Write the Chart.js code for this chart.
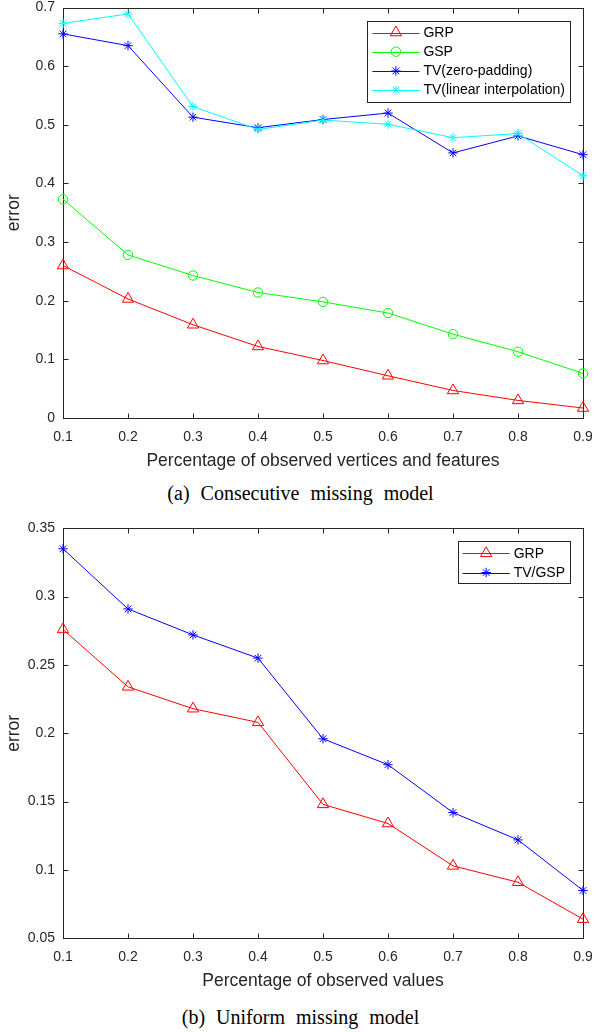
<!DOCTYPE html>
<html>
<head>
<meta charset="utf-8">
<script src="https://cdn.jsdelivr.net/npm/chart.js@4/dist/chart.umd.min.js"></script>
<style>
  html, body { margin: 0; padding: 0; background: #ffffff; }
  body { width: 613px; height: 1032px; position: relative; overflow: hidden; }
  .wrap { position: absolute; left: 0; width: 613px; height: 480px; }
  .cap { position: absolute; left: 0; width: 601px; text-align: center;
         font-family: "Liberation Serif", "Times New Roman", serif; font-size: 20px;
         line-height: 20px; color: #000; word-spacing: 6px; white-space: nowrap; }
</style>
</head>
<body>
<div class="wrap" style="top:0px"><canvas id="chartA"></canvas></div>
<div class="cap" style="top:483px">(a) Consecutive missing model</div>
<div class="wrap" style="top:520px"><canvas id="chartB"></canvas></div>
<div class="cap" style="top:1007px">(b) Uniform missing model</div>
<script>
// ---------- data ----------
const xTicks = ['0.1', '0.2', '0.3', '0.4', '0.5', '0.6', '0.7', '0.8', '0.9'];

// (a) Consecutive missing model
const grpA    = [0.260, 0.203, 0.159, 0.122, 0.098, 0.072, 0.047, 0.030, 0.017];
const gspA    = [0.373, 0.278, 0.243, 0.214, 0.198, 0.179, 0.143, 0.113, 0.076];
const tvZeroA = [0.655, 0.635, 0.513, 0.495, 0.509, 0.520, 0.452, 0.481, 0.449];
const tvLinA  = [0.673, 0.689, 0.531, 0.492, 0.508, 0.501, 0.478, 0.485, 0.413];
const yRangeA = [0, 0.7, 0.1];

// (b) Uniform missing model
const grpB    = [0.276, 0.234, 0.218, 0.208, 0.148, 0.134, 0.103, 0.091, 0.064];
const tvgspB  = [0.335, 0.291, 0.272, 0.255, 0.196, 0.177, 0.142, 0.122, 0.085];
const yRangeB = [0.05, 0.35, 0.05];

const xTitleA = 'Percentage of observed vertices and features';
const xTitleB = 'Percentage of observed values';
const yTitle = 'error';

// ---------- styling ----------
const FONT = '"Liberation Sans", Arial, Helvetica, sans-serif';
const AXIS = '#262626';

function series(label, data, color, style, radius, order) {
  return {
    label, data, order,
    borderColor: color, backgroundColor: 'rgba(0,0,0,0)',
    borderWidth: 1, tension: 0, clip: false,
    pointStyle: style, pointRadius: radius, pointBorderWidth: 1,
    pointBorderColor: color, pointBackgroundColor: 'rgba(0,0,0,0)',
    pointHoverRadius: radius
  };
}

const boxPlugin = {
  id: 'matlabBox',
  beforeDatasetsDraw(chart) {
    const { ctx, chartArea: a, scales: { x, y } } = chart;
    const L = Math.round(a.left) + 0.5, R = Math.round(a.right) + 0.5;
    const T = Math.round(a.top) + 0.5, B = Math.round(a.bottom) + 0.5;
    ctx.save();
    ctx.strokeStyle = AXIS;
    ctx.lineWidth = 1;
    ctx.strokeRect(L, T, R - L, B - T);
    ctx.beginPath();
    x.ticks.forEach((t, i) => {
      const px = Math.round(x.getPixelForTick(i)) + 0.5;
      ctx.moveTo(px, B); ctx.lineTo(px, B - 5);
      ctx.moveTo(px, T); ctx.lineTo(px, T + 5);
    });
    y.ticks.forEach(t => {
      const py = Math.round(y.getPixelForValue(t.value)) + 0.5;
      ctx.moveTo(L, py); ctx.lineTo(L + 5, py);
      ctx.moveTo(R, py); ctx.lineTo(R - 5, py);
    });
    ctx.stroke();
    ctx.restore();
  }
};

function drawMarker(ctx, style, r, x, y) {
  if (Chart.helpers && Chart.helpers.drawPoint) {
    Chart.helpers.drawPoint(ctx, { pointStyle: style, rotation: 0, radius: r, borderWidth: 1 }, x, y);
  }
}

const legendPlugin = {
  id: 'boxLegend',
  afterDatasetsDraw(chart) {
    const { ctx, chartArea: a } = chart;
    const ds = chart.data.datasets;
    ctx.save();
    ctx.font = '14px ' + FONT;
    const textX = 56, rowH = 19.2, firstRow = 12;
    const maxW = Math.max(...ds.map(d => ctx.measureText(d.label).width));
    const w = textX + maxW + 5;
    const h = firstRow + (ds.length - 1) * rowH + 11;
    const right = a.right - 13, top = a.top + 13, left = right - w;
    ctx.fillStyle = '#ffffff';
    ctx.fillRect(left, top, w, h);
    ctx.strokeStyle = AXIS;
    ctx.lineWidth = 1;
    ctx.strokeRect(Math.round(left) + 0.5, Math.round(top) + 0.5, Math.round(w), Math.round(h));
    ds.forEach((d, i) => {
      const yy = top + firstRow + i * rowH;
      ctx.strokeStyle = d.borderColor;
      ctx.lineWidth = 1;
      ctx.beginPath();
      ctx.moveTo(left + 5, Math.round(yy) + 0.5);
      ctx.lineTo(left + 52, Math.round(yy) + 0.5);
      ctx.stroke();
      ctx.fillStyle = 'rgba(0,0,0,0)';
      drawMarker(ctx, d.pointStyle, d.pointRadius, left + 28.5, yy);
      ctx.fillStyle = '#000000';
      ctx.textAlign = 'left';
      ctx.textBaseline = 'middle';
      ctx.fillText(d.label, left + textX, yy + 0.5);
    });
    ctx.restore();
  }
};

function fmt(v) { return String(Number(Number(v).toFixed(3))); }

function makeChart(id, datasets, yr, xTitle, plotTop, plotBottom) {
  const H = 480, padBottom = 8.7;
  const xHeight = (H - padBottom) - plotBottom;
  return new Chart(document.getElementById(id), {
    type: 'line',
    data: { labels: xTicks, datasets },
    plugins: [boxPlugin, legendPlugin],
    options: {
      responsive: true, maintainAspectRatio: false, devicePixelRatio: 1,
      animation: false, events: [],
      layout: { padding: { left: 0, right: 30, top: plotTop, bottom: padBottom } },
      plugins: { legend: { display: false }, tooltip: { enabled: false } },
      scales: {
        x: {
          type: 'category', offset: false,
          grid: { display: false, drawTicks: false, tickLength: 0 }, border: { display: false },
          ticks: { color: AXIS, font: { family: FONT, size: 14 }, padding: 10.3,
                   maxRotation: 0, autoSkip: false },
          title: { display: true, text: xTitle, color: AXIS,
                   font: { family: FONT, size: 17.5 }, padding: { top: 0, bottom: 0 } },
          afterFit(s) { s.height = xHeight; s.paddingLeft = 0; s.paddingRight = 0; }
        },
        y: {
          type: 'linear', min: yr[0], max: yr[1],
          grid: { display: false, drawTicks: false, tickLength: 0 }, border: { display: false },
          ticks: { stepSize: yr[2], color: AXIS, font: { family: FONT, size: 14 },
                   padding: 8, callback: v => fmt(v) },
          title: { display: true, text: yTitle, color: AXIS,
                   font: { family: FONT, size: 17.5 }, padding: { top: 3.5, bottom: 0 } },
          afterFit(s) { s.width = 63; s.paddingTop = 0; s.paddingBottom = 0; }
        }
      }
    }
  });
}

makeChart('chartA', [
  series('GRP', grpA, '#ff0000', 'triangle', 6.5, 4),
  series('GSP', gspA, '#00ff00', 'circle', 4.7, 3),
  series('TV(zero-padding)', tvZeroA, '#0000ff', 'star', 4.7, 2),
  series('TV(linear interpolation)', tvLinA, '#00ffff', 'star', 4.7, 1)
], yRangeA, xTitleA, 7.5, 418);

makeChart('chartB', [
  series('GRP', grpB, '#ff0000', 'triangle', 6.5, 2),
  series('TV/GSP', tvgspB, '#0000ff', 'star', 4.7, 1)
], yRangeB, xTitleB, 8.3, 418.3);
</script>
</body>
</html>
